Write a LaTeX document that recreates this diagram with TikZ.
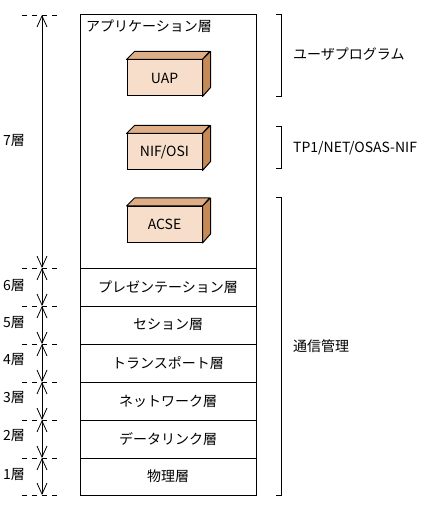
\documentclass[tikz,border=0pt]{standalone}
\usepackage{fontspec}
\setmainfont{Noto Sans CJK JP}
\usetikzlibrary{arrows.meta}
\definecolor{frontc}{HTML}{F6DECA}
\definecolor{topc}{HTML}{DEAE86}
\definecolor{sidec}{HTML}{C68A56}
\begin{document}
\begin{tikzpicture}[x=1pt,y=-1pt,
  every node/.style={font=\fontsize{14}{16}\selectfont, inner sep=0pt},
  layer/.style={draw, line width=1pt, minimum width=176pt, minimum height=38pt},
  frontbox/.style={draw, line width=1pt, fill=frontc, minimum width=75pt, minimum height=36pt},
  arr/.style={line width=0.8pt, {Straight Barb[length=11pt,width=10pt]}-{Straight Barb[length=11pt,width=10pt]}},
  tick/.style={line width=0.8pt, dash pattern=on 5pt off 5pt},
  brack/.style={line width=1pt},
  lbl/.style={anchor=west}]
\useasboundingbox (0,0) rectangle (424,510);
% application layer
\node[draw, line width=1pt, minimum width=176pt, minimum height=253pt] (l7) at (168,141.5) {};
\node[lbl] (l7t) at (86,26) {アプリケーション層};
\node[layer] (l6) at (168,287) {プレゼンテーション層};
\node[layer] (l5) at (168,325) {セション層};
\node[layer] (l4) at (168,363) {トランスポート層};
\node[layer] (l3) at (168,401) {ネットワーク層};
\node[layer] (l2) at (168,439) {データリンク層};
\node[layer, minimum height=37pt] (l1) at (168,476.5) {物理層};
% 3D boxes
\foreach \n/\y/\t in {uap/78/{UAP}, nif/152/{NIF/OSI}, acse/224.5/{ACSE}}{
  \node[frontbox] (\n) at (164.5,\y) {\t};
  \filldraw[fill=topc, line width=1pt, line join=round] (\n.north west) -- ++(8,-8) -- ++(75,0) -- (\n.north east) -- cycle;
  \filldraw[fill=sidec, line width=1pt, line join=round] (\n.north east) -- ++(8,-8) -- ++(0,36) -- (\n.south east) -- cycle;
}
% left scale
\foreach \i/\y in {0/15,1/268,2/306,3/344,4/382,5/420,6/458,7/495}{
  \coordinate (a\i) at (42,\y);
  \coordinate (tl\i) at (22,\y);
  \coordinate (tr\i) at (61,\y);
  \draw[tick] (tl\i) -- (tr\i);
}
\foreach \i/\j in {0/1,1/2,2/3,3/4,4/5,5/6,6/7}{
  \draw[arr] (a\i) -- (a\j);
}
\node[lbl] (n7) at (3,141) {7層};
\node[lbl] (n6) at (3,286) {6層};
\node[lbl] (n5) at (3,323) {5層};
\node[lbl] (n4) at (3,360) {4層};
\node[lbl] (n3) at (3,398) {3層};
\node[lbl] (n2) at (3,436) {2層};
\node[lbl] (n1) at (3,475) {1層};
% right brackets
\draw[brack] (276,15) -- (281,15) -- (281,97) -- (276,97);
\draw[brack] (276,127) -- (281,127) -- (281,169) -- (276,169);
\draw[brack] (276,198) -- (281,198) -- (281,495) -- (276,495);
\node[lbl] (r1) at (293,54) {ユーザプログラム};
\node[lbl] (r2) at (293,148) {TP1/NET/OSAS-NIF};
\node[lbl] (r3) at (293,346) {通信管理};
\end{tikzpicture}
\end{document}
